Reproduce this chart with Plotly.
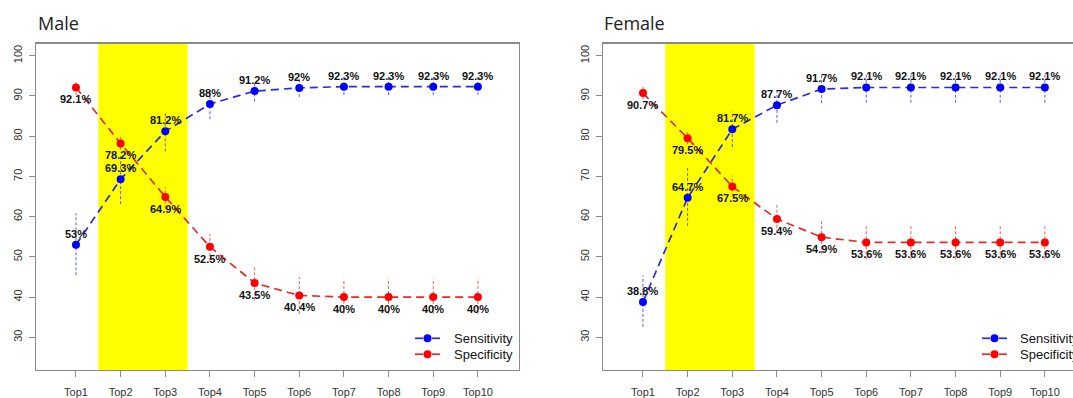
import plotly.graph_objects as go

# ---------------- data ----------------
categories = ["Top1", "Top2", "Top3", "Top4", "Top5", "Top6", "Top7", "Top8", "Top9", "Top10"]
highlight_cats = ["Top2", "Top3"]
y_ticks = [30, 40, 50, 60, 70, 80, 90, 100]

male_sens = [53, 69.3, 81.2, 88, 91.2, 92, 92.3, 92.3, 92.3, 92.3]
male_sens_lo = [45.4, 63.1, 76.2, 84.2, 88.6, 89.7, 90.2, 90.2, 90.2, 90.2]
male_sens_hi = [60.9, 75.5, 86.1, 91.6, 93.6, 94.3, 94.8, 94.8, 94.8, 94.8]
male_spec = [92.1, 78.2, 64.9, 52.5, 43.5, 40.4, 40, 40, 40, 40]
male_spec_lo = [90.2, 76.6, 62.0, 49.0, 39.2, 35.8, 35.8, 35.8, 35.8, 35.8]
male_spec_hi = [93.8, 79.8, 67.4, 55.7, 47.9, 45.0, 44.6, 44.6, 44.6, 44.6]

female_sens = [38.8, 64.7, 81.7, 87.7, 91.7, 92.1, 92.1, 92.1, 92.1, 92.1]
female_sens_lo = [32.6, 57.7, 77.3, 83.3, 88.2, 88.3, 88.3, 88.3, 88.3, 88.3]
female_sens_hi = [45.4, 72.1, 86.1, 92.0, 95.6, 95.6, 95.6, 95.6, 95.6, 95.6]
female_spec = [90.7, 79.5, 67.5, 59.4, 54.9, 53.6, 53.6, 53.6, 53.6, 53.6]
female_spec_lo = [89.2, 78.0, 65.0, 56.0, 50.7, 49.4, 49.4, 49.4, 49.4, 49.4]
female_spec_hi = [92.2, 81.0, 70.2, 62.9, 59.0, 57.7, 57.7, 57.7, 57.7, 57.7]

series_names = ["Sensitivity", "Specificity"]
panel_titles = ["Male", "Female"]

# ---------------- styling ----------------
W, H = 1073, 398
BLUE = "#0000FF"
RED = "#FF0000"
BLUE_LINE = "#2a2ae6"
RED_LINE = "#e62a2a"
BLUE_ERR = "rgba(40,40,230,0.75)"
RED_ERR = "rgba(230,40,40,0.75)"
AXIS_COL = "#8a8a8a"
TXT = "Liberation Sans, Arial, sans-serif"

xs = list(range(1, len(categories) + 1))

fig = go.Figure()


def err_xy(lo, hi):
    ex, ey = [], []
    for x, l, h in zip(xs, lo, hi):
        ex += [x, x, None]
        ey += [l, h, None]
    return ex, ey


panels = [
    ("x", "y", male_sens, male_sens_lo, male_sens_hi, male_spec, male_spec_lo, male_spec_hi),
    ("x2", "y2", female_sens, female_sens_lo, female_sens_hi, female_spec, female_spec_lo, female_spec_hi),
]

annotations = []
for xa, ya, sv, slo, shi, pv, plo, phi in panels:
    for vals, lo, hi, mcol, lcol, ecol, shift in [
        (sv, slo, shi, BLUE, BLUE_LINE, BLUE_ERR, 11),
        (pv, plo, phi, RED, RED_LINE, RED_ERR, -12),
    ]:
        ex, ey = err_xy(lo, hi)
        fig.add_trace(go.Scatter(x=ex, y=ey, xaxis=xa, yaxis=ya, mode="lines",
                                 line=dict(color=ecol, width=1, dash="3px,2px"),
                                 hoverinfo="skip", showlegend=False))
        fig.add_trace(go.Scatter(x=xs, y=vals, xaxis=xa, yaxis=ya, mode="lines+markers",
                                 line=dict(color=lcol, width=1.7, dash="8px,5px"),
                                 marker=dict(color=mcol, size=8, line=dict(width=0)),
                                 showlegend=False))
        for x, v in zip(xs, vals):
            annotations.append(dict(x=x, y=v, xref=xa, yref=ya, text=f"{v:g}%",
                                    showarrow=False, yshift=shift,
                                    font=dict(family=TXT, size=11, color="#111", weight="bold")))

# axes
x_dom = [[36 / W, 519 / W], [603 / W, 1.0]]
x_rng = [[0.105, 10.92], [0.105, 10.63]]
y_dom = [26 / H, 354 / H]
y_rng = [21.85, 102.96]

common_x = dict(tickvals=xs, ticktext=categories, ticks="outside", ticklen=6, tickcolor=AXIS_COL,
                showline=True, linecolor=AXIS_COL, linewidth=1.3, showgrid=False, zeroline=False,
                tickfont=dict(family=TXT, size=11, color="#333"), ticklabelstandoff=5,
                fixedrange=True)
common_y = dict(tickvals=y_ticks, ticks="outside", ticklen=6, tickcolor=AXIS_COL, tickangle=-90,
                showline=True, linecolor=AXIS_COL, linewidth=1.3, showgrid=False, zeroline=False,
                tickfont=dict(family=TXT, size=11, color="#333"), range=y_rng, domain=y_dom,
                ticklabelstandoff=2, fixedrange=True)

fig.update_layout(
    xaxis=dict(common_x, domain=x_dom[0], range=x_rng[0], anchor="y", mirror=True),
    yaxis=dict(common_y, anchor="x", mirror=True),
    xaxis2=dict(common_x, domain=x_dom[1], range=x_rng[1], anchor="y2", mirror=True),
    yaxis2=dict(common_y, anchor="x2", mirror=False),
)

# highlight band
shapes = []
h0 = categories.index(highlight_cats[0]) + 1 - 0.5
h1 = categories.index(highlight_cats[-1]) + 1 + 0.5
for xa, ya in [("x", "y"), ("x2", "y2")]:
    shapes.append(dict(type="rect", xref=xa, yref=ya, x0=h0, x1=h1, y0=y_rng[0], y1=y_rng[1],
                       fillcolor="#FFFF00", line=dict(width=0), layer="below"))

# legends (manual, per panel)
leg_pos = [(415, 452), (982, 1018)]
leg_y = [340, 356]
for (lx, tx) in leg_pos:
    for name, col, lcol, yy in zip(series_names, [BLUE, RED], [BLUE_LINE, RED_LINE], leg_y):
        py = (H - yy) / H
        for a, b in [(lx, lx + 8), (lx + 17, lx + 25)]:
            shapes.append(dict(type="line", xref="paper", yref="paper", x0=a / W, x1=b / W,
                               y0=py, y1=py, line=dict(color=lcol, width=1.7)))
        shapes.append(dict(type="circle", xref="paper", yref="paper", xsizemode="pixel",
                           ysizemode="pixel", xanchor=(lx + 12.5) / W, yanchor=py,
                           x0=-4, x1=4, y0=-4, y1=4, fillcolor=col, line=dict(width=0)))
        annotations.append(dict(xref="paper", yref="paper", x=tx / W, y=py, xanchor="left",
                                yanchor="middle", text=name, showarrow=False,
                                font=dict(family=TXT, size=13, color="#111")))

# panel titles
for title, tx in zip(panel_titles, [36, 602]):
    annotations.append(dict(xref="paper", yref="paper", x=tx / W, y=(H - 23) / H, xanchor="left",
                            yanchor="middle", text=title, showarrow=False,
                            font=dict(family="Open Sans, sans-serif", size=18, color="#222")))

fig.update_layout(width=W, height=H, margin=dict(l=0, r=0, t=0, b=0),
                  paper_bgcolor="white", plot_bgcolor="white",
                  shapes=shapes, annotations=annotations, showlegend=False)

fig.write_html(
    "out.html",
    config={"displayModeBar": False, "staticPlot": True},
    post_script=(
        "document.body.style.margin='0';document.body.style.overflow='hidden';"
        "var d=document.getElementById('{plot_id}');"
        "d.style.position='absolute';d.style.left='0px';d.style.top='0px';"
    ),
)
